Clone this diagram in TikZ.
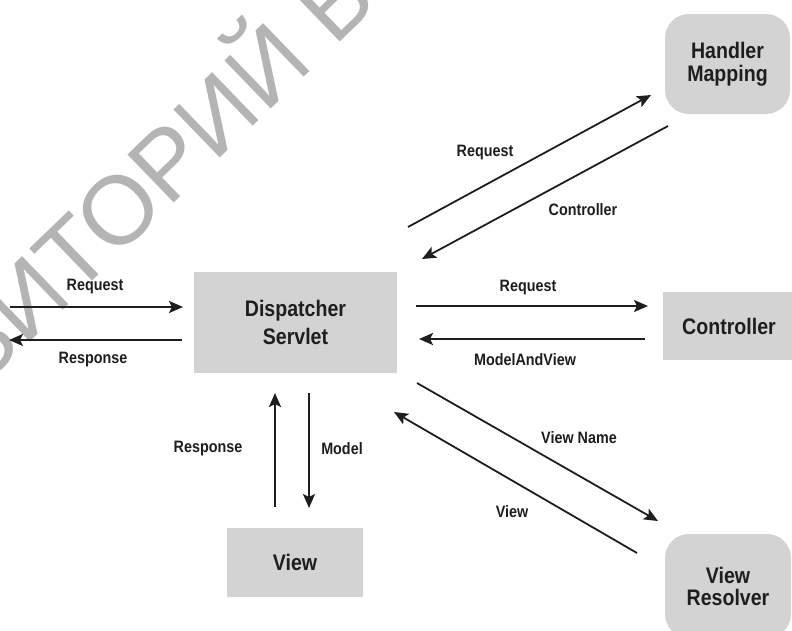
\documentclass[tikz,border=0pt]{standalone}
\usepackage{fontspec}
\setmainfont{Liberation Sans}[FakeStretch=0.87]
\newfontfamily\wmfont{Liberation Sans}
\usetikzlibrary{arrows.meta}
\definecolor{boxgray}{HTML}{D3D3D3}
\definecolor{inkc}{HTML}{1E1E1E}
\definecolor{wmgray}{HTML}{B4B4B4}
\tikzset{
  comp/.style={fill=boxgray, draw=none, text=inkc, align=center, inner sep=0pt,
    font=\fontsize{22.5}{25}\selectfont\bfseries},
  rcomp/.style={comp, rounded corners=24pt},
  flow/.style={draw=inkc, line width=2.4pt, -{Stealth[length=14pt,width=12pt,inset=3pt]}},
  dflow/.style={flow, line width=1.8pt},
  lbl/.style={text=inkc, inner sep=0pt, font=\fontsize{16.5}{18}\selectfont\bfseries},
  wm/.style={text=wmgray, inner sep=0pt, font=\fontsize{97}{97}\wmfont}
}
\begin{document}
\begin{tikzpicture}[x=1pt,y=-1pt]
\useasboundingbox (0,0) rectangle (792,630);
% watermark
\node[wm, anchor=base west, rotate=44] (wmark) at (-18,388) {ЗИТОРИЙ Б};
% components
\node[comp, minimum width=203pt, minimum height=101pt,
  font=\fontsize{22.5}{28}\selectfont\bfseries] (ds) at (295.5,322.5) {Dispatcher\\Servlet};
\node[rcomp, minimum width=125pt, minimum height=100pt,
  font=\fontsize{22.5}{23}\selectfont\bfseries] (hm) at (727.5,64) {Handler\\Mapping};
\node[comp, minimum width=132pt, minimum height=68pt] (ctrl) at (729,326) {Controller};
\node[comp, minimum width=136pt, minimum height=69pt] (view) at (295,562.5) {View};
\node[rcomp, minimum width=126pt, minimum height=104pt,
  font=\fontsize{22.5}{22}\selectfont\bfseries] (vr) at (728,586) {View\\Resolver};
% connector end points
\coordinate (inA) at (10,307);   \coordinate (inB) at (183,307);
\coordinate (outA) at (182,340); \coordinate (outB) at (9,340);
\coordinate (rqA) at (416,306);  \coordinate (rqB) at (648,306);
\coordinate (mvA) at (645,339);  \coordinate (mvB) at (419,339);
\coordinate (hrA) at (408,227);  \coordinate (hrB) at (651,95);
\coordinate (hcA) at (668,126);  \coordinate (hcB) at (422,259);
\coordinate (vuA) at (275,507);  \coordinate (vuB) at (275,393);
\coordinate (vdA) at (309,393);  \coordinate (vdB) at (309,508);
\coordinate (vnA) at (417,383);  \coordinate (vnB) at (658,521);
\coordinate (vwA) at (637,553);  \coordinate (vwB) at (394,412);
% connectors
\draw[flow] (inA) -- (inB);
\draw[flow] (outA) -- (outB);
\draw[flow] (rqA) -- (rqB);
\draw[flow] (mvA) -- (mvB);
\draw[dflow] (hrA) -- (hrB);
\draw[dflow] (hcA) -- (hcB);
\draw[flow] (vuA) -- (vuB);
\draw[flow] (vdA) -- (vdB);
\draw[dflow] (vnA) -- (vnB);
\draw[dflow] (vwA) -- (vwB);
% labels
\node[lbl] (l1) at (95,287) {Request};
\node[lbl] (l2) at (93,360) {Response};
\node[lbl] (l3) at (528,288) {Request};
\node[lbl] (l4) at (525,360) {ModelAndView};
\node[lbl] (l5) at (485,153) {Request};
\node[lbl] (l6) at (583,210) {Controller};
\node[lbl] (l7) at (208,449) {Response};
\node[lbl] (l8) at (342,449) {Model};
\node[lbl] (l9) at (579,438) {View Name};
\node[lbl] (l10) at (512,512) {View};
\end{tikzpicture}
\end{document}
